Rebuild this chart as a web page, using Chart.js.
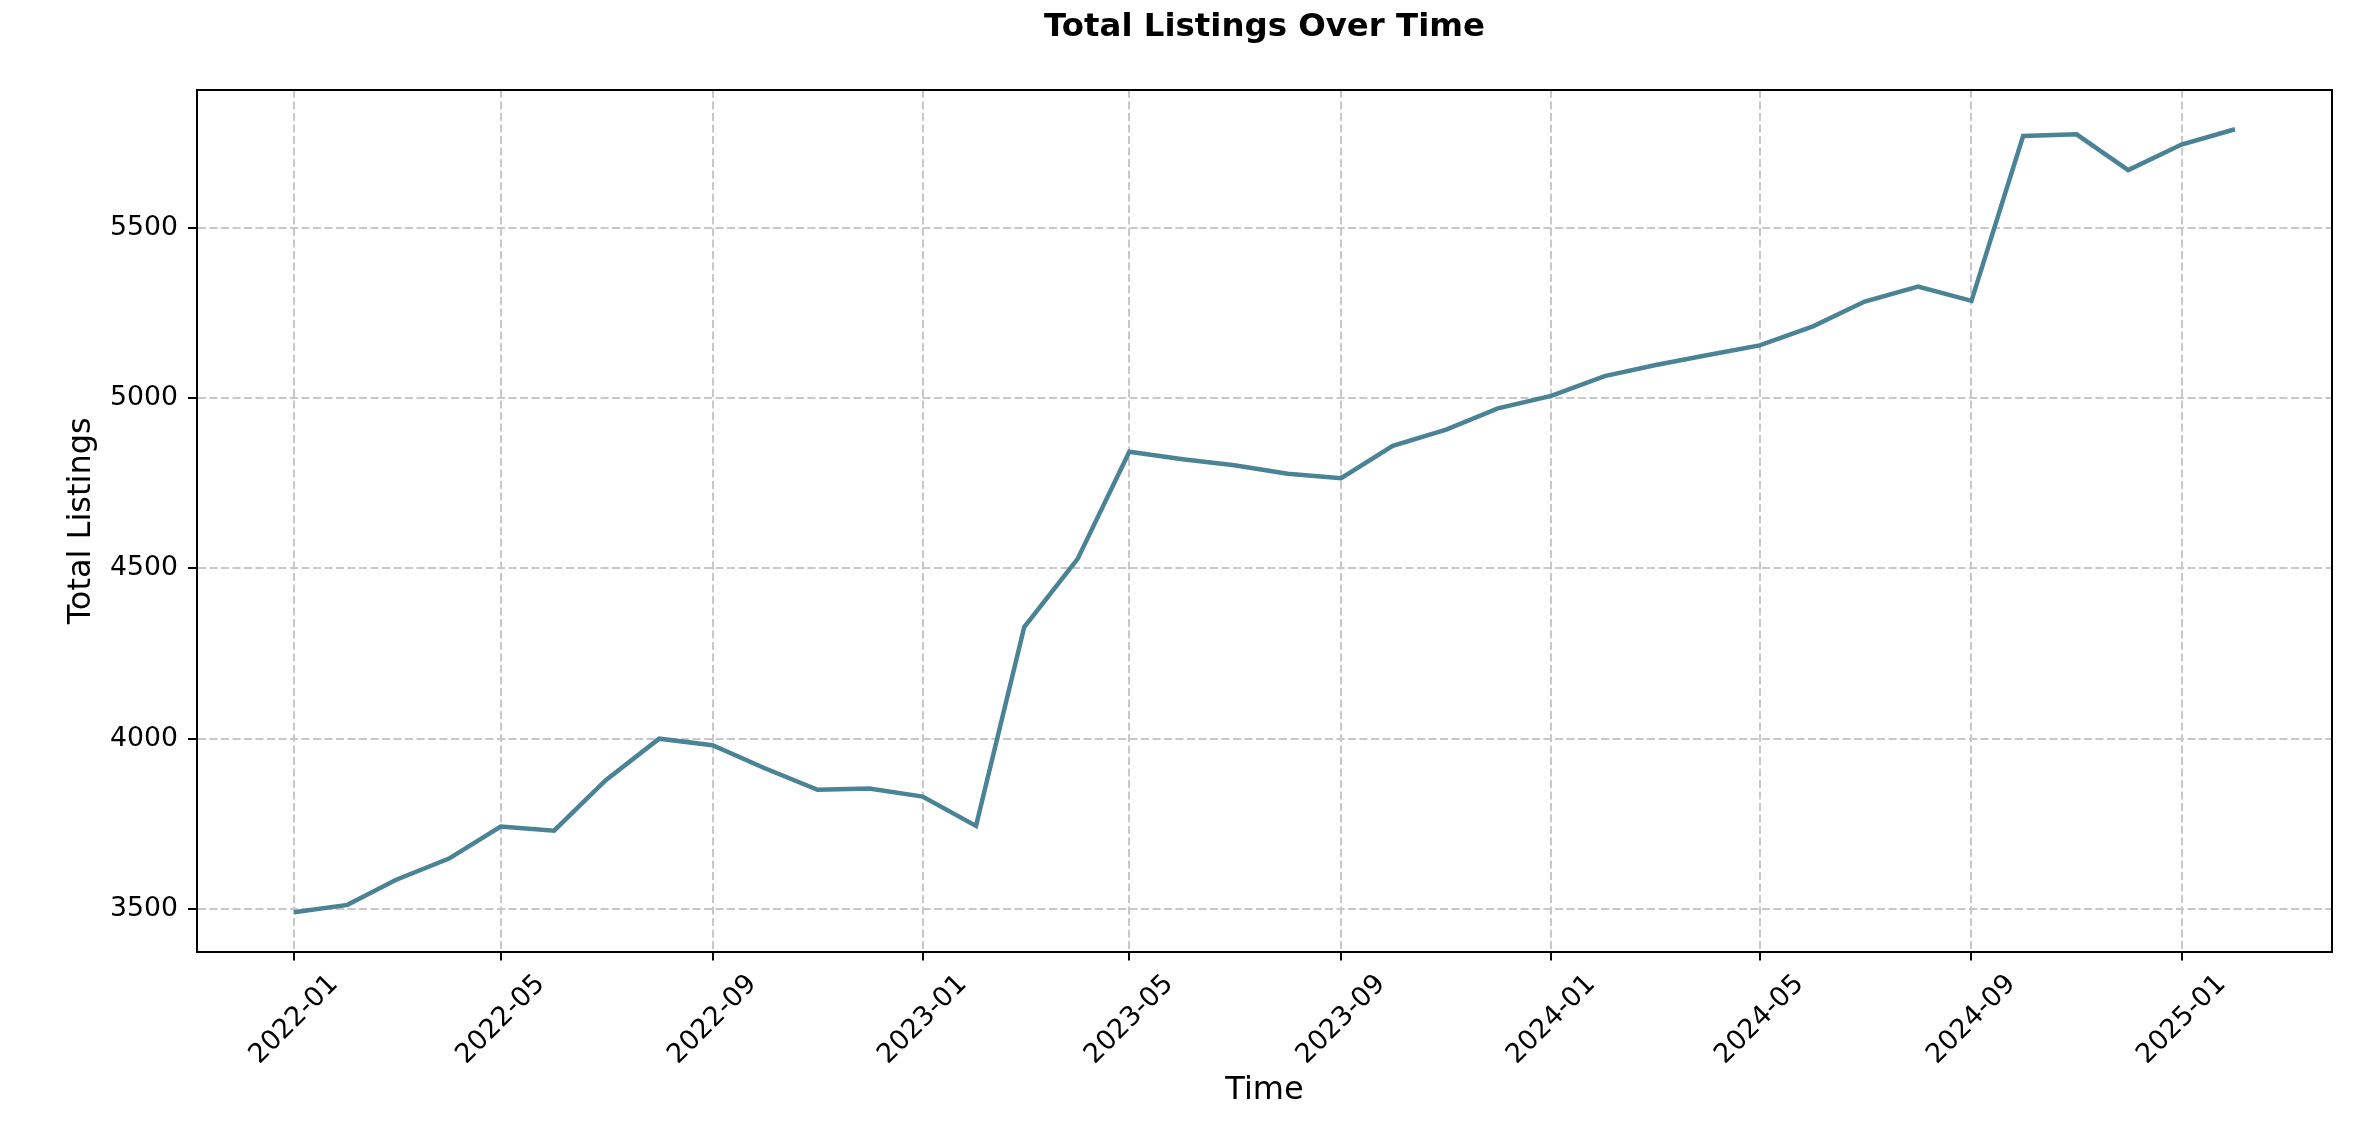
<!DOCTYPE html>
<html>
<head>
<meta charset="utf-8">
<script src="https://cdn.jsdelivr.net/npm/chart.js@4"></script>
<style>
html,body{margin:0;padding:0;background:#fff;overflow:hidden;}
#wrap{width:2372px;height:1140px;}
</style>
</head>
<body>
<div id="wrap"><canvas id="c" width="2372" height="1140"></canvas></div>
<script>
// ---- data ----
const months = [
  '2022-01','2022-02','2022-03','2022-04','2022-05','2022-06','2022-07','2022-08','2022-09','2022-10','2022-11','2022-12',
  '2023-01','2023-02','2023-03','2023-04','2023-05','2023-06','2023-07','2023-08','2023-09','2023-10','2023-11','2023-12',
  '2024-01','2024-02','2024-03','2024-04','2024-05','2024-06','2024-07','2024-08','2024-09','2024-10','2024-11','2024-12',
  '2025-01','2025-02'
];
const totalListings = [
  3490, 3512, 3585, 3648, 3742, 3730, 3878, 4000, 3981, 3914, 3850, 3854,
  3830, 3744, 4328, 4528, 4843, 4821, 4803, 4778, 4765, 4860, 4908, 4970,
  5007, 5065, 5097, 5127, 5155, 5211, 5284, 5328, 5286, 5770, 5775, 5670,
  5745, 5790
];
const xTickLabels = ['2022-01','2022-05','2022-09','2023-01','2023-05','2023-09','2024-01','2024-05','2024-09','2025-01'];
const yTickValues = [3500, 4000, 4500, 5000, 5500];

// ---- helpers ----
function dayIndex(ym) {
  const [y, m] = ym.split('-').map(Number);
  return (Date.UTC(y, m - 1, 1) - Date.UTC(2022, 0, 1)) / 86400000;
}
const points = months.map((m, i) => ({ x: dayIndex(m), y: totalListings[i] }));
const xs = points.map(p => p.x);
const xSpan = Math.max(...xs) - Math.min(...xs);
const xMin = Math.min(...xs) - 0.05 * xSpan;
const xMax = Math.max(...xs) + 0.05 * xSpan;
const ySpan = Math.max(...totalListings) - Math.min(...totalListings);
const yMin = Math.min(...totalListings) - 0.05 * ySpan;
const yMax = Math.max(...totalListings) + 0.05 * ySpan;

const FONT = 'DejaVu Sans';
const tickFont = { family: FONT, size: 26.7 };
const xTickFont = { family: FONT, size: 27 };
const labelFont = { family: FONT, size: 32, lineHeight: 1.2 };

const framePlugin = {
  id: 'frame',
  afterDatasetsDraw(chart) {
    const { ctx, chartArea: a } = chart;
    ctx.save();
    ctx.strokeStyle = '#000';
    ctx.lineWidth = 2;
    ctx.beginPath();
    ctx.moveTo(a.left, a.top);
    ctx.lineTo(a.right, a.top);
    ctx.lineTo(a.right, a.bottom);
    ctx.stroke();
    ctx.restore();
  }
};

new Chart(document.getElementById('c'), {
  type: 'line',
  data: {
    datasets: [{
      label: 'Total Listings',
      data: points,
      borderColor: '#4a8395',
      borderWidth: 4.5,
      pointRadius: 0,
      tension: 0,
      fill: false
    }]
  },
  options: {
    responsive: false,
    animation: false,
    devicePixelRatio: 1,
    layout: { padding: { left: 0, right: 40, top: 0, bottom: 0 } },
    plugins: {
      legend: { display: false },
      tooltip: { enabled: false },
      title: {
        display: true,
        fullSize: false,
        text: 'Total Listings Over Time',
        color: '#000',
        font: { family: FONT, size: 32.4, weight: 'bold', lineHeight: 1.2 },
        padding: { top: 8, bottom: 43.2 }
      }
    },
    scales: {
      x: {
        type: 'linear',
        min: xMin,
        max: xMax,
        afterBuildTicks: s => { s.ticks = xTickLabels.map(l => ({ value: dayIndex(l) })); },
        afterFit: s => { s.height = 188.5; s.paddingLeft = 0; s.paddingRight = 0; },
        ticks: {
          autoSkip: false,
          minRotation: 45,
          maxRotation: 45,
          labelOffset: 40,
          padding: 8,
          color: '#000',
          font: xTickFont,
          callback: (v, i) => xTickLabels[i]
        },
        grid: {
          color: '#c8c8c8',
          lineWidth: 2,
          tickColor: '#000',
          tickWidth: 2,
          tickLength: 9,
          tickBorderDash: []
        },
        border: { display: true, color: '#000', width: 2, dash: [8, 3.5] },
        title: {
          display: true,
          text: 'Time',
          color: '#000',
          font: labelFont,
          padding: { top: 0, bottom: 30 }
        }
      },
      y: {
        type: 'linear',
        min: yMin,
        max: yMax,
        afterBuildTicks: s => { s.ticks = yTickValues.map(v => ({ value: v })); },
        afterFit: s => { s.width = 197; s.paddingTop = 0; s.paddingBottom = 0; },
        ticks: {
          padding: 10,
          color: '#000',
          font: tickFont,
          callback: v => String(v)
        },
        grid: {
          color: '#c8c8c8',
          lineWidth: 2,
          tickColor: '#000',
          tickWidth: 2,
          tickLength: 9,
          tickBorderDash: []
        },
        border: { display: true, color: '#000', width: 2, dash: [8, 3.5] },
        title: {
          display: true,
          text: 'Total Listings',
          color: '#000',
          font: labelFont,
          padding: { top: 62, bottom: 0 }
        }
      }
    }
  },
  plugins: [framePlugin]
});
</script>
</body>
</html>
